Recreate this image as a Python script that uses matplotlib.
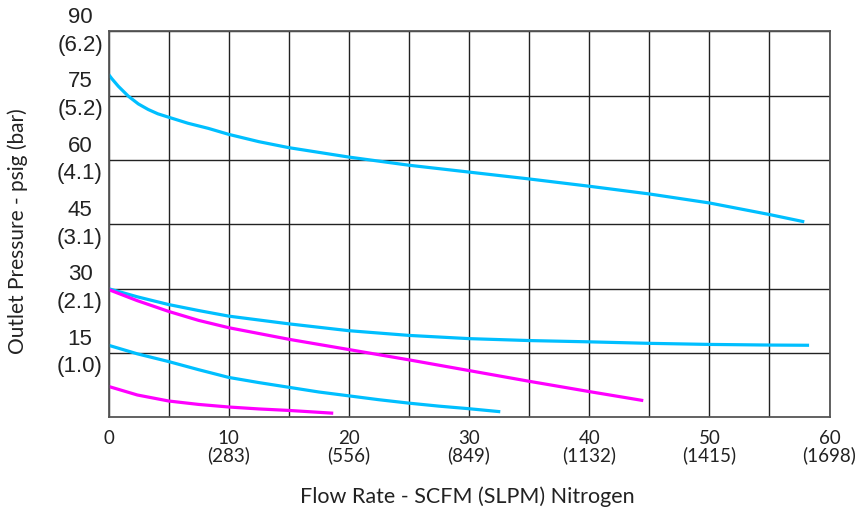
import numpy as np
import matplotlib.pyplot as plt

# Данные кривых (SCFM, psig)
x_c1 = [0, 0.27, 0.82, 1.65, 2.48, 3.3, 4.1, 5, 6.6, 8.3, 10, 12.5, 15, 20, 25, 30, 35, 40, 45, 50, 55, 57.9]
y_c1 = [80, 79.0, 77.2, 74.9, 73.1, 71.8, 70.8, 70.0, 68.6, 67.4, 66.0, 64.3, 62.9, 60.7, 58.8, 57.2, 55.6, 53.9, 52.1, 50.0, 47.3, 45.6]

x_c2 = [0, 2.4, 5, 7.5, 10, 15, 20, 25, 30, 35, 40, 45, 50, 55, 58.3]
y_c2 = [30, 28.1, 26.3, 24.9, 23.6, 21.8, 20.2, 19.1, 18.35, 17.9, 17.6, 17.25, 17.0, 16.85, 16.8]

x_c3 = [0, 2.4, 5, 7.5, 10, 12.5, 15, 17.5, 20, 22.5, 25, 27.5, 30, 32.6]
y_c3 = [16.8, 14.8, 13.0, 11.1, 9.3, 8.1, 7.0, 5.9, 5.0, 4.1, 3.3, 2.6, 2.0, 1.3]

x_m1 = [0, 2.4, 5, 7.5, 10, 15, 20, 25, 30, 35, 40, 44.5]
y_m1 = [29.8, 27.2, 24.7, 22.6, 20.9, 18.2, 15.8, 13.4, 10.9, 8.4, 6.0, 3.9]

x_m2 = [0, 2.4, 5, 7.5, 10, 12.5, 15, 18.7]
y_m2 = [7.2, 5.2, 3.8, 3.0, 2.4, 1.95, 1.6, 0.95]

# Подписи осей
y_ticks = [15, 30, 45, 60, 75, 90]
y_bar = ['1.0', '2.1', '3.1', '4.1', '5.2', '6.2']
x_ticks = [0, 10, 20, 30, 40, 50, 60]
x_slpm = ['', '283', '556', '849', '1132', '1415', '1698']

cyan = '#00BFFF'
magenta = '#FF00FF'

fig = plt.figure(figsize=(8.58, 5.16), dpi=100)
ax = fig.add_axes([0.1265, 0.1913, 0.8403, 0.7477])

for x, y in [(x_c1, y_c1), (x_c2, y_c2), (x_c3, y_c3)]:
    ax.plot(x, y, color=cyan, lw=2.3, solid_capstyle='butt')
for x, y in [(x_m1, y_m1), (x_m2, y_m2)]:
    ax.plot(x, y, color=magenta, lw=2.3, solid_capstyle='butt')

ax.set_xlim(0, 60)
ax.set_ylim(0, 90)

# Сетка
ax.set_xticks(np.arange(0, 61, 5), minor=True)
ax.set_yticks(y_ticks)
ax.grid(True, which='both', axis='x', color='#222222', lw=1)
ax.grid(True, which='major', axis='y', color='#222222', lw=1)
for s in ax.spines.values():
    s.set_color('#555555')
    s.set_linewidth(1.3)
ax.tick_params(which='both', length=0)

ax.set_xticks(x_ticks)
ax.set_xticklabels([f'{t}\n({s})' if s else f'{t}' for t, s in zip(x_ticks, x_slpm)],
                   fontsize=13.5, family='Lato', linespacing=0.95, color='#222222')
ax.tick_params(axis='x', pad=9)

ax.set_yticklabels([])
for v, b in zip(y_ticks, y_bar):
    ax.text(-2.37, v, f'{v}\n({b})', ha='center', va='center', multialignment='center',
            fontsize=16, family='Liberation Sans', linespacing=1.42, color='#222222', clip_on=False)

fig.text(0.021, 0.552, 'Outlet Pressure - psig (bar)', rotation=90, ha='center', va='center',
         fontsize=15, family='Lato', color='#222222')
fig.text(0.545, 0.037, 'Flow Rate - SCFM (SLPM) Nitrogen', ha='center', va='center',
         fontsize=15.5, family='Lato', color='#222222')

fig.savefig('out.png', dpi=100)
